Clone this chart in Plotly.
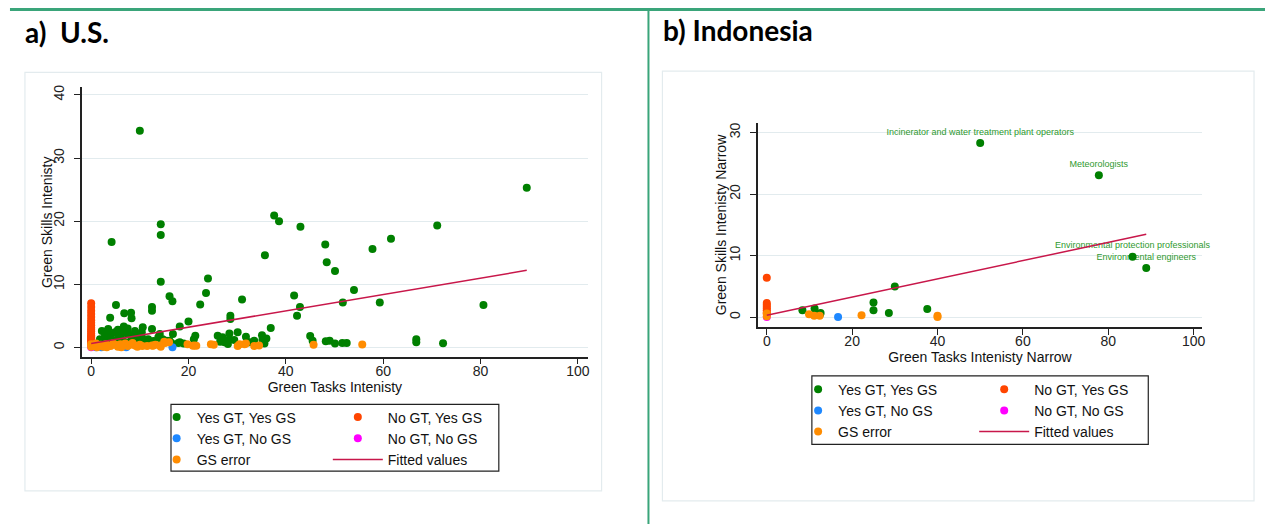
import plotly.graph_objects as go

W, H = 1268, 524

# ---------------- Panel a) U.S. ----------------
us_yy_x = [10.0, 89.5, 4.2, 14.3, 14.3, 37.6, 38.6, 43.0, 71.1, 61.6, 57.8, 48.1, 35.7, 48.4, 50.1,
           14.3, 24.0, 54.0, 16.1, 16.7, 23.6, 22.4, 31.0, 41.7, 42.9, 42.3, 51.7, 59.3, 80.6, 5.1,
           12.5, 12.5, 6.8, 8.2, 8.3, 3.9, 20.0, 28.6, 28.6, 10.6, 12.5, 18.2, 36.9, 30.1, 2.2,
           35.1, 45.0, 26.0, 27.0, 28.4, 21.4, 21.1, 31.8, 33.5, 35.2, 35.6, 66.8, 66.8, 72.3, 48.2,
           49.0, 50.1, 51.6, 52.5, 45.5, 28.4, 29.4, 27.4, 28.1, 17.9, 18.2, 3.5, 6.7, 6.6, 4.9,
           9.0, 7.6, 5.6, 2.85, 1.8, 4.2, 6.3, 8.3, 10.0, 11.7, 13.8, 15.5, 14.5, 3.0, 5.0,
           7.0, 9.5, 11.0, 12.8, 16.5, 19.0, 2.5, 8.0, 6.0, 4.0, 3.0, 7.5, 5.5, 8.8, 10.4,
           14.1, 16.1, 14.7, 16.8, 10.4, 26.5, 32.5, 36.0]
us_yy_y = [34.3, 25.3, 16.7, 19.5, 17.8, 20.9, 20.0, 19.1, 19.3, 17.2, 15.6, 16.3, 14.6, 13.5, 12.1,
           10.4, 10.9, 9.1, 8.1, 7.3, 8.6, 6.8, 7.6, 8.2, 6.4, 5.0, 7.1, 7.1, 6.7, 6.7,
           6.4, 5.8, 5.4, 5.5, 4.6, 4.7, 4.1, 5.0, 4.5, 3.2, 2.9, 3.3, 3.06, 2.4, 2.6,
           1.9, 1.8, 1.85, 1.6, 2.2, 1.85, 1.3, 1.7, 1.06, 1.2, 0.6, 1.3, 0.8, 0.64, 0.95,
           1.06, 0.6, 0.7, 0.7, 1.06, 1.3, 1.17, 0.8, 0.53, 0.7, 0.8, 2.9, 3.3, 2.4, 2.4,
           2.6, 2.1, 1.85, 1.85, 1.3, 1.3, 1.3, 1.4, 1.6, 1.3, 1.6, 1.05, 0.8, 1.0, 0.9,
           0.8, 0.9, 0.8, 1.0, 0.7, 0.6, 0.7, 0.6, 1.6, 2.0, 2.3, 3.0, 2.8, 2.0, 2.4,
           2.1, 1.06, 1.3, 2.1, 1.7, 0.9, 0.8, 1.4]

us_ny_x = [0] * 21
us_ny_y = [7.0, 6.4, 5.8, 5.3, 4.8, 4.3, 3.9, 3.5, 3.1, 2.8, 2.5, 2.2, 1.9, 1.7, 1.5, 1.3,
           1.1, 0.9, 0.7, 0.5, 0.3]

us_yn_x = [16.7, 2.1, 7.2, 1.0]
us_yn_y = [0.0, 0.0, 0.0, 0.0]

us_nn_x = [0]
us_nn_y = [0.0]

us_err_x = [0.0, 0.5, 1.0, 1.5, 2.0, 2.5, 3.0, 3.5, 4.0, 4.5, 5.0, 5.5, 6.0, 6.5, 7.0, 7.5,
            8.0, 8.5, 9.0, 9.5, 10.0, 10.5, 12.5, 13.2, 14.3, 15.2, 0.0, 1.2, 3.2, 6.2, 11.5,
            15.0, 19.8, 21.2, 24.6, 25.2, 30.1, 30.5, 31.5, 31.8, 33.5, 34.5, 45.7, 55.7, 20.9,
            21.6, 14.1, 16.0, 12.7]
us_err_y = [0.5, 0.3, 0.6, 0.2, 0.4, 0.1, 0.5, 0.3, 0.2, 0.6, 0.4, 0.1, 0.5, 0.3, 0.6, 0.2,
            0.4, 0.7, 0.3, 0.1, 0.4, 0.2, 0.3, 0.4, 0.1, 0.7, 0.1, 0.0, 0.0, 0.0, 0.2,
            0.9, 0.5, 0.3, 0.5, 0.4, 0.2, 0.5, 0.5, 0.6, 0.2, 0.3, 0.4, 0.47, 0.27,
            0.27, 0.3, 0.8, 0.25]

us_fit_x = [0.0, 89.5]
us_fit_y = [0.6, 12.2]

# ---------------- Panel b) Indonesia ----------------
id_yy_x = [50.0, 77.8, 85.7, 88.9, 8.35, 11.2, 12.6, 25.0, 25.0, 28.6, 30.0, 37.6, 12.5]
id_yy_y = [28.3, 23.06, 9.82, 7.96, 1.13, 1.4, 0.65, 2.37, 1.13, 0.65, 4.96, 1.3, 0.5]
id_labels = ["Incinerator and water treatment plant operators", "Meteorologists",
             "Environmental protection professionals", "Environmental engineers"]

id_ny_x = [0] * 8
id_ny_y = [6.4, 2.3, 2.0, 1.7, 1.4, 1.1, 0.8, 0.5]

id_yn_x = [16.7]
id_yn_y = [0.0]

id_nn_x = [0]
id_nn_y = [0.0]

id_err_x = [0.0, 0.0, 9.9, 11.1, 12.4, 22.2, 40.0, 40.0]
id_err_y = [0.6, 0.15, 0.48, 0.2, 0.2, 0.32, 0.2, 0.0]

id_fit_x = [0.0, 88.9]
id_fit_y = [0.3, 13.45]

series_names = ["Yes GT, Yes GS", "No GT, Yes GS", "Yes GT, No GS", "No GT, No GS",
                "GS error", "Fitted values"]

# ---------------- styling ----------------
C_GREEN = "#008000"
C_RED = "#ff4500"
C_BLUE = "#1e88ff"
C_MAG = "#ff00ff"
C_ORANGE = "#ff8c00"
C_FIT = "#c8174a"
FONT = "Liberation Sans, Arial, sans-serif"
TITLE_FONT = "Lato, Carlito, Calibri, sans-serif"
MS = 8


def px2x(p):
    return p / W


def py2y(p):
    return 1 - p / H


fig = go.Figure()


def add_panel(xa, ya, data, legs, show_labels=None):
    (yy, ny, yn, nn, err, fit) = data
    if show_labels is not None:
        lx, ly, lt = show_labels
        fig.add_trace(go.Scatter(x=lx, y=ly, text=lt, mode="markers+text",
                                 textposition="top center", cliponaxis=False,
                                 marker=dict(size=MS, color="rgba(0,0,0,0)"),
                                 textfont=dict(size=9, color="#2f9a2f", family=FONT),
                                 showlegend=False, hoverinfo="skip",
                                 xaxis=xa, yaxis=ya))
    specs = [(yy, C_GREEN, series_names[0], legs[0]),
             (ny, C_RED, series_names[1], legs[1]),
             (yn, C_BLUE, series_names[2], legs[0]),
             (nn, C_MAG, series_names[3], legs[1]),
             (err, C_ORANGE, series_names[4], legs[0])]
    for (xs, ys), col, name, lg in specs:
        fig.add_trace(go.Scatter(x=xs, y=ys, mode="markers", name=name,
                                 marker=dict(size=MS, color=col, line=dict(width=0)),
                                 legend=lg, xaxis=xa, yaxis=ya))
    fig.add_trace(go.Scatter(x=fit[0], y=fit[1], mode="lines", name=series_names[5],
                             line=dict(color=C_FIT, width=1.5),
                             legend=legs[1], xaxis=xa, yaxis=ya))


add_panel("x", "y",
          ((us_yy_x, us_yy_y), (us_ny_x, us_ny_y), (us_yn_x, us_yn_y), (us_nn_x, us_nn_y),
           (us_err_x, us_err_y), (us_fit_x, us_fit_y)),
          ("legend", "legend2"))

add_panel("x2", "y2",
          ((id_yy_x, id_yy_y), (id_ny_x, id_ny_y), (id_yn_x, id_yn_y), (id_nn_x, id_nn_y),
           (id_err_x, id_err_y), (id_fit_x, id_fit_y)),
          ("legend3", "legend4"),
          show_labels=(id_yy_x[:4], id_yy_y[:4], id_labels))

axis_common = dict(showline=True, linecolor="#222222", linewidth=1.5, ticks="outside",
                   ticklen=6, tickcolor="#222222", tickwidth=1.2, mirror=False,
                   tickfont=dict(family=FONT, size=14, color="#222222"),
                   zeroline=False)
xcommon = dict(axis_common, showgrid=False, tickvals=[0, 20, 40, 60, 80, 100],
               ticklabelstandoff=-5)
ycommon = dict(axis_common, showgrid=True, gridcolor="#e2ebee", gridwidth=1.2, tickangle=-90,
               ticklabelstandoff=5)

leg_common = dict(font=dict(family=FONT, size=14, color="#111111"), bgcolor="rgba(0,0,0,0)",
                  borderwidth=0, xanchor="left", yanchor="top", orientation="v",
                  tracegroupgap=0)
title_font = dict(family=FONT, size=14, color="#111111")

fig.update_layout(
    width=W, height=H,
    margin=dict(l=0, r=0, t=0, b=0),
    paper_bgcolor="white", plot_bgcolor="white",
    xaxis=dict(xcommon, domain=[px2x(82.4), px2x(589)], range=[-1.84, 102.0], anchor="y",
               title=dict(text="Green Tasks Intenisty", standoff=2, font=title_font)),
    yaxis=dict(ycommon, domain=[py2y(356), py2y(85)], range=[-1.47, 41.3], anchor="x",
               tickvals=[0, 10, 20, 30, 40]),
    xaxis2=dict(xcommon, domain=[px2x(759.7), px2x(1205)], range=[-2.08, 102.0], anchor="y2",
                title=dict(text="Green Tasks Intenisty Narrow", standoff=2, font=title_font)),
    yaxis2=dict(ycommon, domain=[py2y(326), py2y(121.7)], range=[-1.57, 31.5], anchor="x2",
                tickvals=[0, 10, 20, 30]),
    legend=dict(leg_common, x=px2x(157), y=py2y(401)),
    legend2=dict(leg_common, x=px2x(328.6), y=py2y(401), itemwidth=50),
    legend3=dict(leg_common, x=px2x(800), y=py2y(373)),
    legend4=dict(leg_common, x=px2x(976.5), y=py2y(373), itemwidth=50),
    showlegend=True,
)

# y-axis titles (Stata-style, rotated)
fig.add_annotation(text="Green Skills Intenisty", xref="paper", yref="paper",
                   x=px2x(46.5), y=py2y(220.5), textangle=-90, showarrow=False,
                   xanchor="center", yanchor="middle", font=title_font)
fig.add_annotation(text="Green Skills Intenisty Narrow", xref="paper", yref="paper",
                   x=px2x(722.9), y=py2y(223.9), textangle=-90, showarrow=False,
                   xanchor="center", yanchor="middle", font=title_font)

shapes = []
# green header lines
shapes.append(dict(type="line", xref="paper", yref="paper", x0=px2x(10), x1=1.0,
                   y0=py2y(7.5), y1=py2y(7.5), line=dict(color="#3aa57a", width=3)))
shapes.append(dict(type="line", xref="paper", yref="paper", x0=px2x(650), x1=px2x(650),
                   y0=py2y(7.5), y1=0, line=dict(color="#3aa57a", width=2)))
# outer light graph boxes
shapes.append(dict(type="rect", xref="paper", yref="paper", x0=px2x(25), x1=px2x(603),
                   y0=py2y(490.7), y1=py2y(70.7), line=dict(color="#e3ebee", width=1.2)))
shapes.append(dict(type="rect", xref="paper", yref="paper", x0=px2x(664), x1=px2x(1257),
                   y0=py2y(500.7), y1=py2y(69.3), line=dict(color="#e3ebee", width=1.2)))
# legend frames
shapes.append(dict(type="rect", xref="paper", yref="paper", x0=px2x(171.4), x1=px2x(500),
                   y0=py2y(471), y1=py2y(404), line=dict(color="#222222", width=1.2)))
shapes.append(dict(type="rect", xref="paper", yref="paper", x0=px2x(813.8), x1=px2x(1151),
                   y0=py2y(444), y1=py2y(375.3), line=dict(color="#222222", width=1.2)))
fig.update_layout(shapes=shapes)

fig.add_annotation(text="<b>a)  U.S.</b>", xref="paper", yref="paper", x=px2x(23), y=py2y(30),
                   xanchor="left", yanchor="middle", showarrow=False,
                   font=dict(family=TITLE_FONT, size=28, color="#000000"))
fig.add_annotation(text="<b>b) Indonesia</b>", xref="paper", yref="paper", x=px2x(663),
                   y=py2y(28), xanchor="left", yanchor="middle", showarrow=False,
                   font=dict(family=TITLE_FONT, size=28, color="#000000"))

fig.write_html("out.html", config={"displayModeBar": False},
               post_script="document.body.style.margin='0';document.body.style.padding='0';")
